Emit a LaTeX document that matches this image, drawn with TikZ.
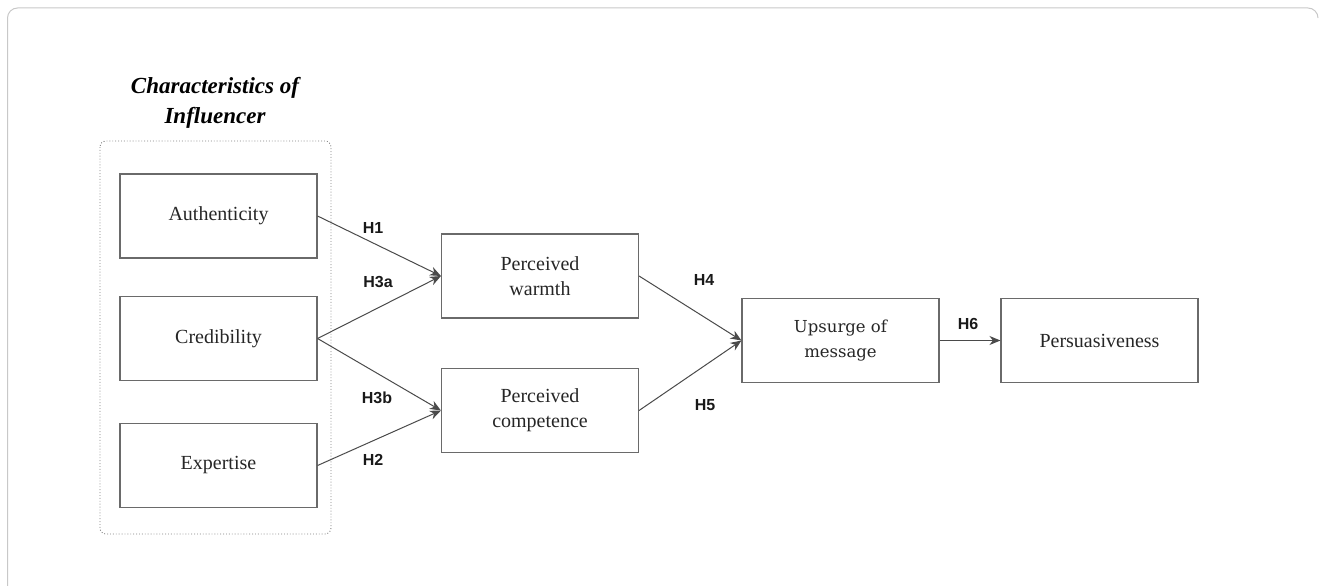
\documentclass[tikz,border=0pt]{standalone}
\usepackage{fontspec}
\newfontfamily\tnr{Liberation Serif}
\newfontfamily\lsans{Liberation Sans}
\newfontfamily\dserif{DejaVu Serif}
\usetikzlibrary{arrows.meta}
\definecolor{boxc}{HTML}{6A6A6A}
\definecolor{linec}{HTML}{4A4A4A}
\definecolor{framec}{HTML}{C8C8C8}
\begin{document}
\begin{tikzpicture}[x=1pt,y=-1pt,
  box/.style={draw=boxc,line width=1.1pt,minimum width=197pt,minimum height=84pt,inner sep=0pt,align=center,text=black!85,font=\tnr\fontsize{20}{25}\selectfont},
  conn/.style={draw=linec,line width=1pt,-{Stealth[length=11pt,width=9pt,inset=3.5pt]}},
  hlab/.style={font=\lsans\bfseries\fontsize{16}{18}\selectfont,text=black!90,inner sep=0pt}]
\useasboundingbox (0,0) rectangle (1320,586);
% outer frame
\draw[framec,line width=1pt] (7.5,586) -- (7.5,18) arc[start angle=180,end angle=90,radius=10pt] -- (1308,8) arc[start angle=90,end angle=0,radius=10pt];
% group
\draw[gray,dotted,line width=0.9pt,rounded corners=6pt] (100,141) rectangle (331,534);
\node[font=\tnr\bfseries\itshape\fontsize{23}{30}\selectfont,align=center,inner sep=0pt] (title) at (215,103) {Characteristics of\\Influencer};
\node[box] (auth) at (218.5,216) {Authenticity};
\node[box] (cred) at (218.5,338.5) {Credibility};
\node[box] (expe) at (218.5,465.5) {Expertise};
\node[box] (warm) at (540,276) {Perceived\\warmth};
\node[box] (comp) at (540,410.5) {Perceived\\competence};
\node[box,font=\dserif\fontsize{16.5}{25}\selectfont] (ups) at (840.5,340.5) {Upsurge of\\message};
\node[box] (pers) at (1099.5,340.5) {Persuasiveness};
\draw[conn] (auth.east) -- (warm.west);
\draw[conn] (cred.east) -- (warm.west);
\draw[conn] (cred.east) -- (comp.west);
\draw[conn] (expe.east) -- (comp.west);
\draw[conn] (warm.east) -- (ups.west);
\draw[conn] (comp.east) -- (ups.west);
\draw[conn] (ups.east) -- (pers.west);
\node[hlab] (h1) at (373,228) {H1};
\node[hlab] (h3a) at (378,282) {H3a};
\node[hlab] (h3b) at (377,398) {H3b};
\node[hlab] (h2) at (373,460) {H2};
\node[hlab] (h4) at (704,280) {H4};
\node[hlab] (h5) at (705,405) {H5};
\node[hlab] (h6) at (968,324) {H6};
\end{tikzpicture}
\end{document}
